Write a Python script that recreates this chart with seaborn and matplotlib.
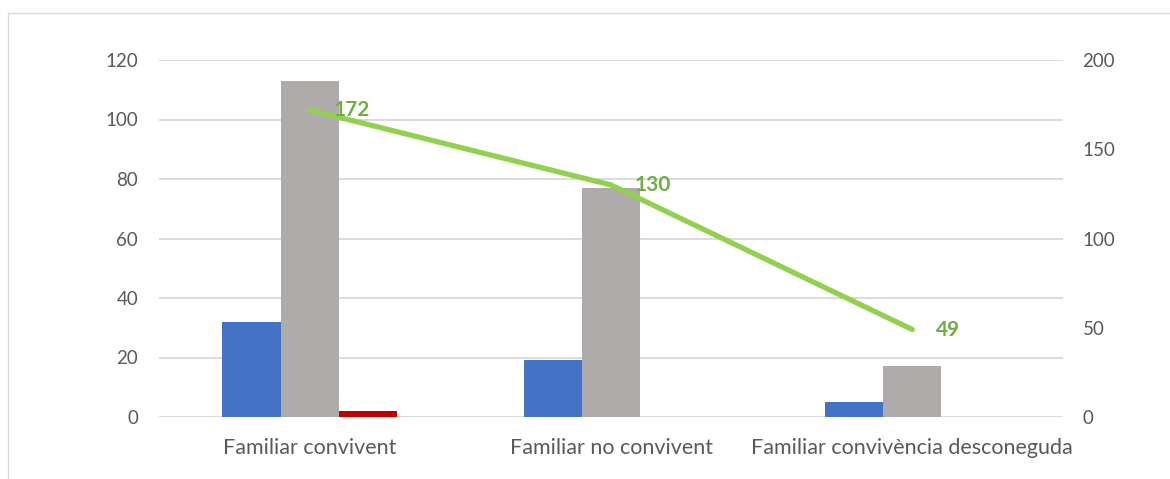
import matplotlib
matplotlib.use("Agg")
import matplotlib.pyplot as plt
import seaborn as sns
import pandas as pd
from matplotlib.lines import Line2D

categories = ["Familiar convivent", "Familiar no convivent", "Familiar convivència desconeguda"]
serie_a = [32, 19, 5]
serie_b = [113, 77, 17]
serie_c = [2, 0, 0]
total = [172, 130, 49]
series = ["A", "B", "C"]

colors = {"A": "#4472C4", "B": "#AFABAB", "C": "#C00000"}

df = pd.DataFrame({
    "categoria": categories * 3,
    "serie": [s for s in series for _ in categories],
    "valor": serie_a + serie_b + serie_c,
})

sns.set_style("white")
plt.rcParams["font.family"] = ["Lato", "DejaVu Sans"]

fig = plt.figure(figsize=(11.7, 4.79), dpi=100)
ax = fig.add_axes([159 / 1170, 1 - 417 / 479, (1063 - 159) / 1170, (417 - 60) / 479])

sns.barplot(data=df, x="categoria", y="valor", hue="serie", order=categories,
            palette=colors, saturation=1, width=0.58, gap=0, linewidth=0,
            legend=False, ax=ax)
ax.set_ylim(0, 120)
ax.set_yticks(range(0, 121, 20))
ax.set_xlim(-0.5, 2.5)
ax.yaxis.grid(True, color="#D9D9D9", linewidth=1.3)
ax.set_axisbelow(True)
for s in ax.spines.values():
    s.set_visible(False)
ax.set_xlabel("")
ax.set_ylabel("")
ax.tick_params(axis="y", length=0, pad=15, labelsize=13.5, labelcolor="#595959")
ax.tick_params(axis="x", length=0, pad=15, labelsize=15.5, labelcolor="#595959")

ax2 = ax.twinx()
sns.lineplot(x=categories, y=total, sort=False, color="#92D050", linewidth=3.8,
             ax=ax2, solid_capstyle="round")
ax2.set_ylim(0, 200)
ax2.set_yticks(range(0, 201, 50))
ax2.set_xlim(-0.5, 2.5)
for s in ax2.spines.values():
    s.set_visible(False)
ax2.set_ylabel("")
ax2.tick_params(axis="y", length=0, pad=14, labelsize=13.5, labelcolor="#595959")
for i, v in enumerate(total):
    ax2.annotate(str(v), (i, v), xytext=(17, 0), textcoords="offset points",
                 ha="left", va="center", fontsize=15, fontweight="bold", color="#70AD47")

# marc del gràfic
fig.add_artist(Line2D([8 / 1170, 8 / 1170], [1 - 13 / 479, -0.1], color="#D9D9D9", linewidth=1))
fig.add_artist(Line2D([8 / 1170, 1.1], [1 - 13 / 479, 1 - 13 / 479], color="#D9D9D9", linewidth=1))

fig.savefig("out.png", dpi=100)
